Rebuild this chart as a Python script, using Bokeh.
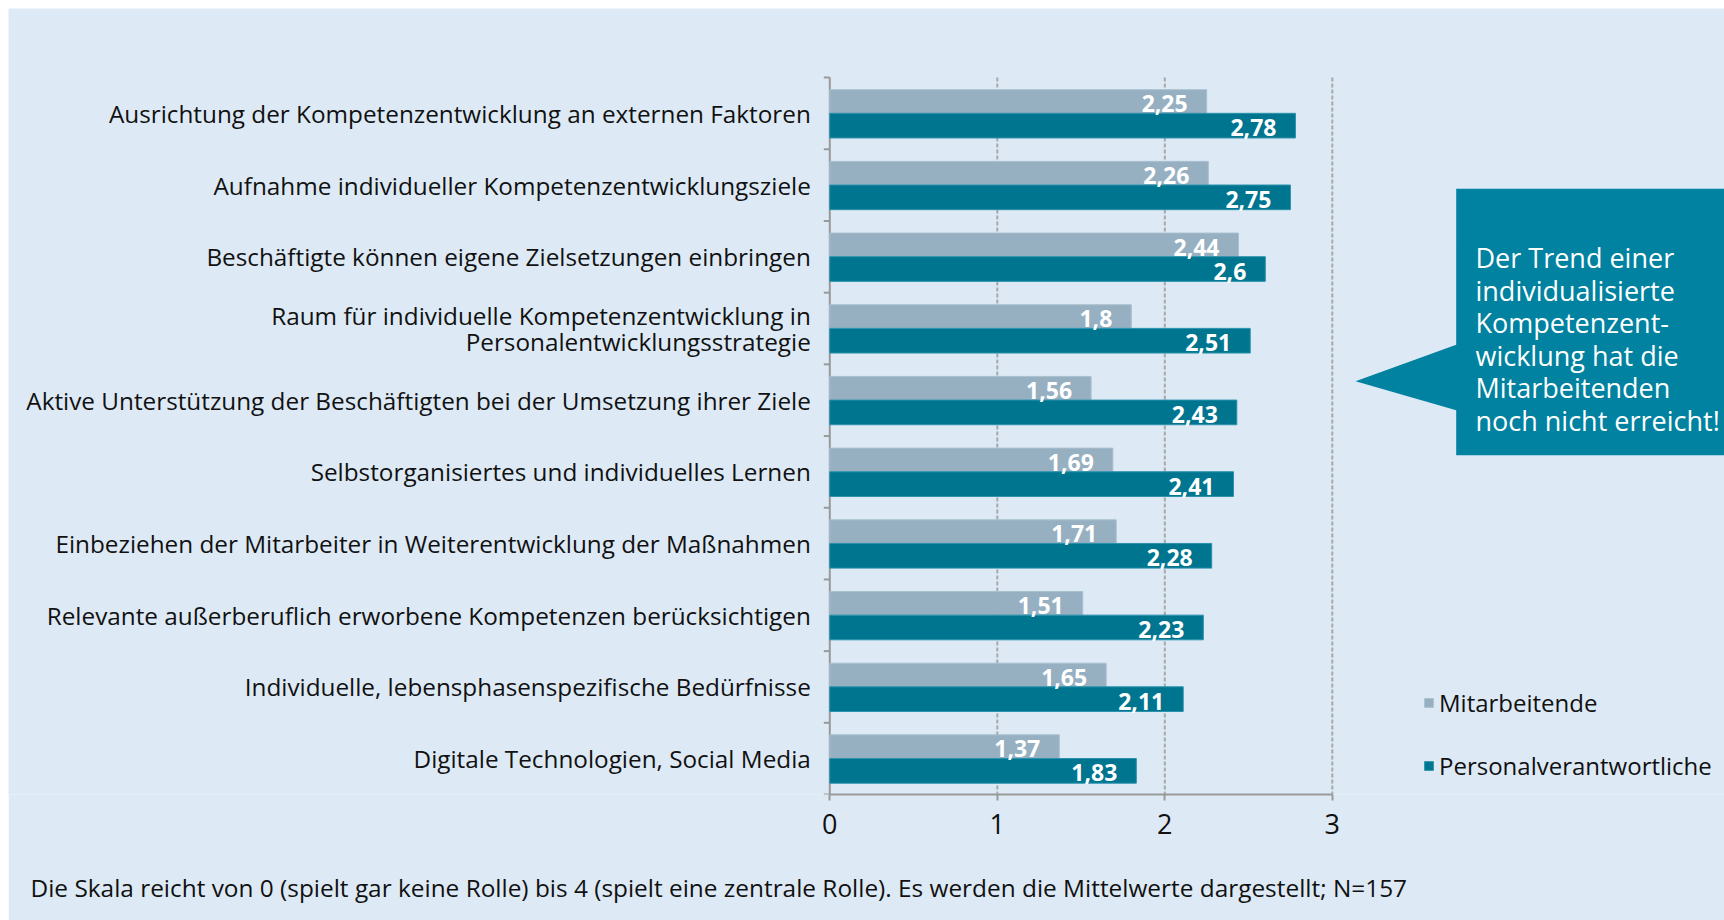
from bokeh.plotting import figure
from bokeh.models import (Range1d, LinearAxis, FixedTicker, ColumnDataSource, Title,
                          Legend, LegendItem)
from bokeh.core.properties import value
from bokeh.embed import file_html
from bokeh.resources import INLINE

# ---------------- data ----------------
categories = [
    "Ausrichtung der Kompetenzentwicklung an externen Faktoren",
    "Aufnahme individueller Kompetenzentwicklungsziele",
    "Beschäftigte können eigene Zielsetzungen einbringen",
    "Raum für individuelle Kompetenzentwicklung in\nPersonalentwicklungsstrategie",
    "Aktive Unterstützung der Beschäftigten bei der Umsetzung ihrer Ziele",
    "Selbstorganisiertes und individuelles Lernen",
    "Einbeziehen der Mitarbeiter in Weiterentwicklung der Maßnahmen",
    "Relevante außerberuflich erworbene Kompetenzen berücksichtigen",
    "Individuelle, lebensphasenspezifische Bedürfnisse",
    "Digitale Technologien, Social Media",
]
mitarbeitende = [2.25, 2.26, 2.44, 1.80, 1.56, 1.69, 1.71, 1.51, 1.65, 1.37]
personalverantwortliche = [2.78, 2.75, 2.60, 2.51, 2.43, 2.41, 2.28, 2.23, 2.11, 1.83]
series_names = ["Mitarbeitende", "Personalverantwortliche"]
x_ticks = [0, 1, 2, 3]
callout_text = ("Der Trend einer\nindividualisierte\nKompetenzent-\n"
                "wicklung hat die\nMitarbeitenden\nnoch nicht erreicht!")
footnote = ("Die Skala reicht von 0 (spielt gar keine Rolle) bis 4 (spielt eine zentrale Rolle). "
            "Es werden die Mittelwerte dargestellt; N=157")

# ---------------- style / layout ----------------
FONT = "Open Sans"
BG = "#DDEAF6"
GRAY = "#96B0C2"
GRAY_LINE = "#A9C0CF"
TEAL = "#00758F"
TEAL_LINE = "#2A92AC"
CALLOUT = "#0082A0"
AXIS = "#999999"
GRID = "#A8A8A8"

MARGIN = 8                  # white page margin at top / left
W, H = 1724 - MARGIN, 920 - MARGIN
PX = 167.5                  # pixels per x unit
ZERO_X = 829.3 - MARGIN     # figure px of x = 0
GROUP = 71.87               # pixels per category
TOP = 77.3 - MARGIN         # figure px of first category boundary
FRAME_BOTTOM = 796 - MARGIN # figure px of x axis

n = len(categories)


def dx(page_x):
    return (page_x - MARGIN - ZERO_X) / PX


def dy(page_y):
    return (page_y - MARGIN - TOP) / GROUP


p = figure(width=W, height=H,
           x_range=Range1d(-ZERO_X / PX, (W - ZERO_X) / PX),
           y_range=Range1d(dy(FRAME_BOTTOM + MARGIN), dy(MARGIN)),
           x_axis_type=None, y_axis_type=None,
           output_backend="svg", toolbar_location=None,
           min_border_left=0, min_border_right=0, min_border_top=0,
           min_border_bottom=H - FRAME_BOTTOM,
           background_fill_color=BG, border_fill_color=BG,
           outline_line_color=None, margin=(MARGIN, 0, 0, MARGIN))

# grid lines (dashed) and y axis
p.segment(x0=x_ticks[1:], y0=[0] * 3, x1=x_ticks[1:], y1=[n] * 3,
          line_color=GRID, line_width=2, line_dash="4 2")
p.segment(x0=[0], y0=[0], x1=[0], y1=[n], line_color=AXIS, line_width=2)
bounds = list(range(n + 1))
p.segment(x0=[0] * len(bounds), y0=bounds, x1=[-6 / PX] * len(bounds), y1=bounds,
          line_color=AXIS, line_width=2)

# bars
centers = [i + 0.5 for i in range(n)]
y_m = [c - 0.165 for c in centers]
y_p = [c + 0.17 for c in centers]


def fmt(v):
    s = ("%.2f" % v).rstrip("0").rstrip(".")
    return s.replace(".", ",")


src_m = ColumnDataSource(dict(y=y_m, v=mitarbeitende, lab=[fmt(v) for v in mitarbeitende]))
src_p = ColumnDataSource(dict(y=y_p, v=personalverantwortliche,
                              lab=[fmt(v) for v in personalverantwortliche]))

r_m = p.hbar(y="y", left=0, right="v", height=0.334, source=src_m,
             fill_color=GRAY, line_color=GRAY_LINE, line_width=1)
r_p = p.hbar(y="y", left=0, right="v", height=0.344, source=src_p,
             fill_color=TEAL, line_color=TEAL_LINE, line_width=1)

for src in (src_m, src_p):
    p.text(x="v", y="y", text="lab", source=src, text_align="right",
           text_baseline="middle", x_offset=-19, y_offset=2,
           text_color="white", text_font=value(FONT), text_font_style="bold",
           text_font_size="23px")

# category labels
p.text(x=[-19 / PX] * n, y=centers, text=categories, text_align="right",
       text_baseline="middle", text_color="#111111", text_font=value(FONT),
       text_font_size="24.3px", text_line_height=0.78)

# x axis
xaxis = LinearAxis(ticker=FixedTicker(ticks=x_ticks), bounds=(0, 3),
                   axis_line_color=AXIS, axis_line_width=2,
                   major_tick_out=6, major_tick_in=0,
                   major_tick_line_color=AXIS, major_tick_line_width=2,
                   minor_tick_line_color=None,
                   major_label_text_font=FONT, major_label_text_font_size="27px",
                   major_label_text_color="#111111", major_label_standoff=13,
                   axis_label=" ", axis_label_standoff=6,
                   axis_label_text_font_size="6px")
p.add_layout(xaxis, "below")

# callout
box_x = [dx(1455.7), dx(1740), dx(1740), dx(1455.7), dx(1455.7), dx(1355), dx(1455.7)]
box_y = [dy(188.7), dy(188.7), dy(456), dy(456), dy(410.7), dy(381.7), dy(345)]
p.patch(x=box_x, y=box_y, fill_color=CALLOUT, line_color=None)
p.text(x=[dx(1475)], y=[dy(339.4)], text=[callout_text], text_align="left",
       text_baseline="middle", text_color="white", text_font=value(FONT),
       text_font_size="27px", text_line_height=0.88)

# legend
legend = Legend(items=[LegendItem(label=series_names[0], renderers=[r_m]),
                       LegendItem(label=series_names[1], renderers=[r_p])],
                location=(1415, 12), orientation="vertical",
                background_fill_alpha=0, border_line_color=None,
                glyph_width=11, glyph_height=11, label_standoff=5,
                label_text_font=FONT, label_text_font_size="24px",
                label_text_color="#111111", spacing=30, padding=0, margin=0)
p.add_layout(legend)

# footnote
p.add_layout(Title(text=footnote, align="left", offset=22, standoff=34,
                   text_font=FONT, text_font_size="24.4px", text_font_style="normal",
                   text_color="#111111"), "below")

open("out.html", "w").write(file_html(p, INLINE))
